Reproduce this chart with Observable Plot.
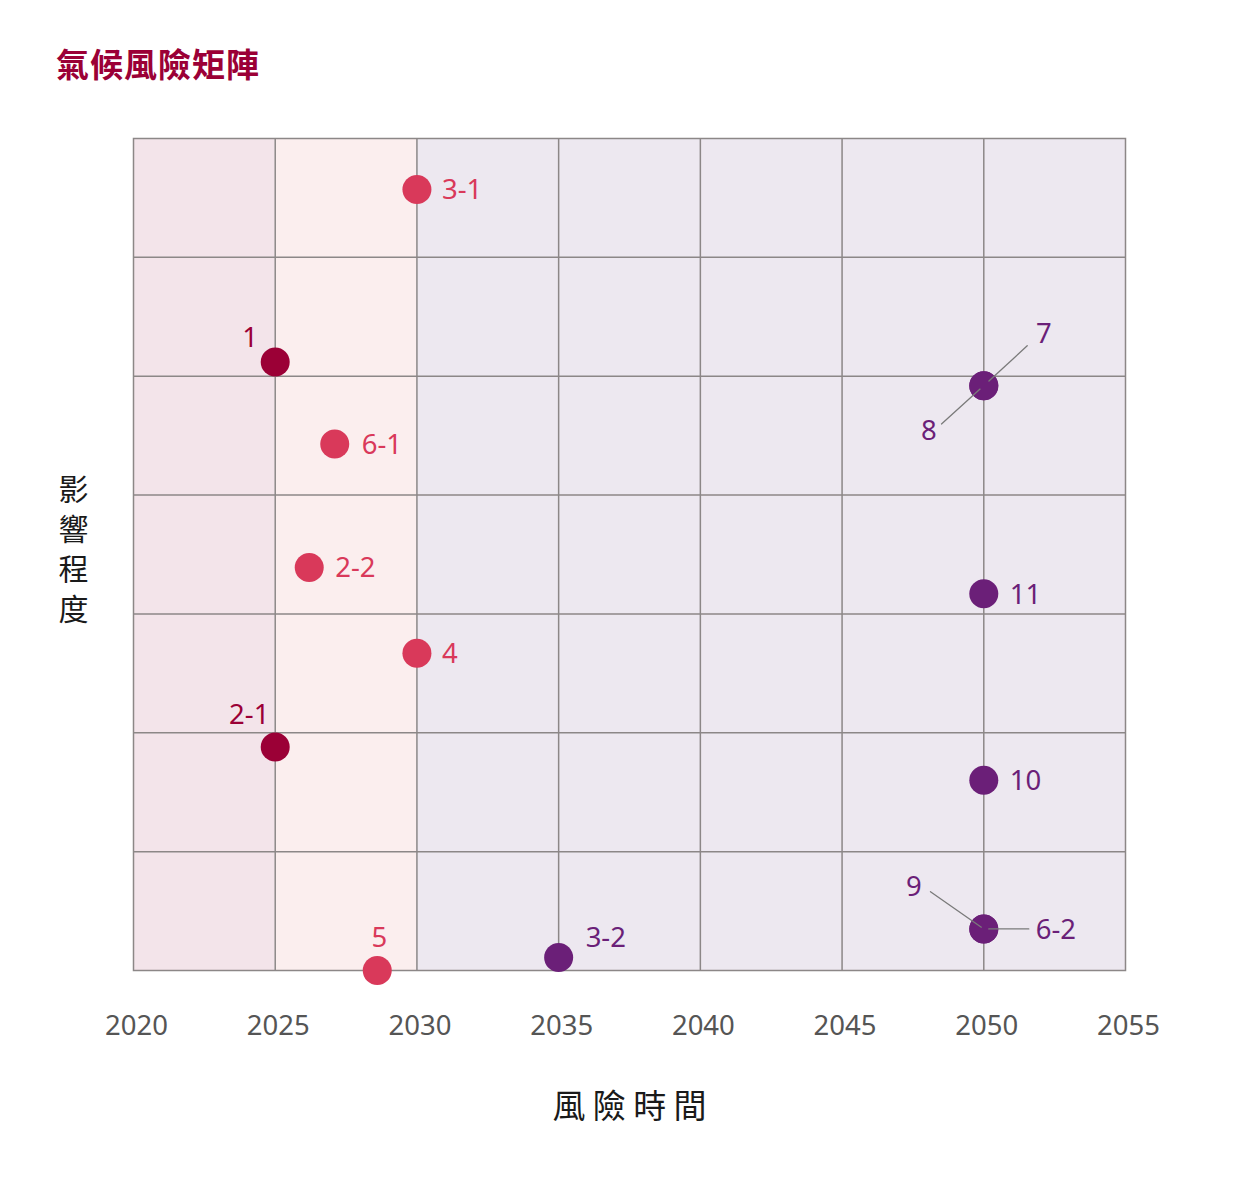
<!DOCTYPE html>
<html>
<head>
<meta charset="utf-8">
<script src="https://cdn.jsdelivr.net/npm/d3@7"></script>
<script src="https://cdn.jsdelivr.net/npm/@observablehq/plot@0.6"></script>
<style>
  html, body { margin: 0; padding: 0; background: #fff; }
  #wrap { position: relative; width: 1251px; height: 1189px; }
  #title { position: absolute; left: 56px; top: 44px; font-family: "Noto Sans CJK TC", "Noto Sans", sans-serif; font-size: 33px; font-weight: 700; color: #9b0036; line-height: 1.2; letter-spacing: 1px; }
  #chart { position: absolute; left: 0; top: 0; }
</style>
</head>
<body>
<div id="wrap">
  <div id="chart"></div>
  <div id="title">氣候風險矩陣</div>
</div>
<script>
// ---- data ----
const names   = ["3-1", "1", "6-1", "2-2", "4", "2-1", "5", "3-2", "7", "8", "11", "10", "9", "6-2"];
const years   = [2030, 2025, 2027.1, 2026.2, 2030, 2025, 2028.6, 2035, 2050, 2050, 2050, 2050, 2050, 2050];
const impacts = [6.57, 5.12, 4.43, 3.39, 2.67, 1.88, 0.0, 0.11, 4.92, 4.92, 3.17, 1.60, 0.35, 0.35];
const groups  = ["紅", "深紅", "紅", "紅", "紅", "深紅", "紅", "紫", "紫", "紫", "紫", "紫", "紫", "紫"];

const groupNames  = ["深紅", "紅", "紫"];
const bandStarts  = [2020, 2025, 2030];
const bandEnds    = [2025, 2030, 2055];
const xTicks      = [2020, 2025, 2030, 2035, 2040, 2045, 2050, 2055];
const gridYears   = [2025, 2030, 2035, 2040, 2045, 2050];
const gridLevels  = [1, 2, 3, 4, 5, 6];
const title  = "氣候風險矩陣";
const xLabel = "風 險 時 間";
const yLabelChars = ["影", "響", "程", "度"];

// ---- styling (pixel offsets for labels & leader lines) ----
const groupColors = ["#9b0036", "#d9395a", "#6b1f78"];
const bandColors  = ["#f3e4ea", "#fbeeee", "#ede8f0"];
const labelStyle = {
  "3-1": {dx: 25, dy: 1, anchor: "start"},
  "1":   {dx: -25, dy: -24, anchor: "middle"},
  "6-1": {dx: 27, dy: 1, anchor: "start"},
  "2-2": {dx: 26, dy: 1, anchor: "start"},
  "4":   {dx: 25, dy: 1, anchor: "start"},
  "2-1": {dx: -26, dy: -32, anchor: "middle"},
  "5":   {dx: 2, dy: -32, anchor: "middle"},
  "3-2": {dx: 27, dy: -19, anchor: "start"},
  "7":   {dx: 60, dy: -52, anchor: "middle"},
  "8":   {dx: -55, dy: 45, anchor: "middle"},
  "11":  {dx: 26, dy: 1, anchor: "start"},
  "10":  {dx: 26, dy: 1, anchor: "start"},
  "9":   {dx: -70, dy: -42, anchor: "middle"},
  "6-2": {dx: 52, dy: 1, anchor: "start"}
};
const leaders = [
  {name: "7",   angle: 47.4,  start: 7, end: 59},
  {name: "8",   angle: 227.9, start: 5, end: 57},
  {name: "9",   angle: 304.9, start: 3, end: 65},
  {name: "6-2", angle: 90,    start: 5, end: 45}
];

const points = names.map((n, i) => ({name: n, year: years[i], impact: impacts[i], group: groups[i]}));
const bands = bandStarts.map((s, i) => ({x1: s, x2: bandEnds[i], fill: bandColors[i]}));

const gridColor = "#8c8787";

const marks = [
  Plot.rectY(bands, {x1: "x1", x2: "x2", y1: 0, y2: 7, fill: "fill"}),
  Plot.ruleX(gridYears, {stroke: gridColor, strokeWidth: 1.5}),
  Plot.ruleY(gridLevels, {stroke: gridColor, strokeWidth: 1.5}),
  Plot.frame({stroke: gridColor, strokeWidth: 1.5}),
  Plot.dot(points, {x: "year", y: "impact", r: 14.5, fill: "group"}),
  ...leaders.map(l => Plot.vector(points.filter(d => d.name === l.name), {
    x: "year", y: "impact", length: l.end, rotate: l.angle, anchor: "start",
    stroke: "#7a7a7a", strokeWidth: 1.3,
    shape: {draw(ctx, len) { ctx.moveTo(0, -l.start); ctx.lineTo(0, -len); }}
  })),
  ...points.map(p => {
    const s = labelStyle[p.name];
    return Plot.text([p], {x: "year", y: "impact", text: "name", fill: "group",
      dx: s.dx, dy: s.dy, textAnchor: s.anchor, fontSize: 27.5});
  }),
  Plot.axisX({ticks: xTicks, tickSize: 0, tickPadding: 45, fontSize: 27.5, tickFormat: d => String(d), label: null, dx: 3, color: "#555555"}),
  Plot.text([xLabel], {frameAnchor: "bottom", dy: 147, fontSize: 33, fill: "#1a1a1a",
    fontFamily: "Noto Sans CJK TC, sans-serif"}),
  ...yLabelChars.map((c, i) => Plot.text([c], {frameAnchor: "left", textAnchor: "middle", dx: -60,
    dy: -64 + i * 40, fontSize: 30, fill: "#1a1a1a", fontFamily: "Noto Sans CJK TC, sans-serif"}))
];

const chart = Plot.plot({
  width: 1251,
  height: 1189,
  marginLeft: 133,
  marginRight: 126,
  marginTop: 138,
  marginBottom: 219,
  x: {domain: [2020, 2055], axis: null},
  y: {domain: [0, 7], axis: null},
  color: {type: "ordinal", domain: groupNames, range: groupColors},
  style: {fontFamily: "'Noto Sans', 'Noto Sans CJK TC', sans-serif", background: "transparent", overflow: "visible"},
  marks
});
document.getElementById("chart").appendChild(chart);
</script>
</body>
</html>
